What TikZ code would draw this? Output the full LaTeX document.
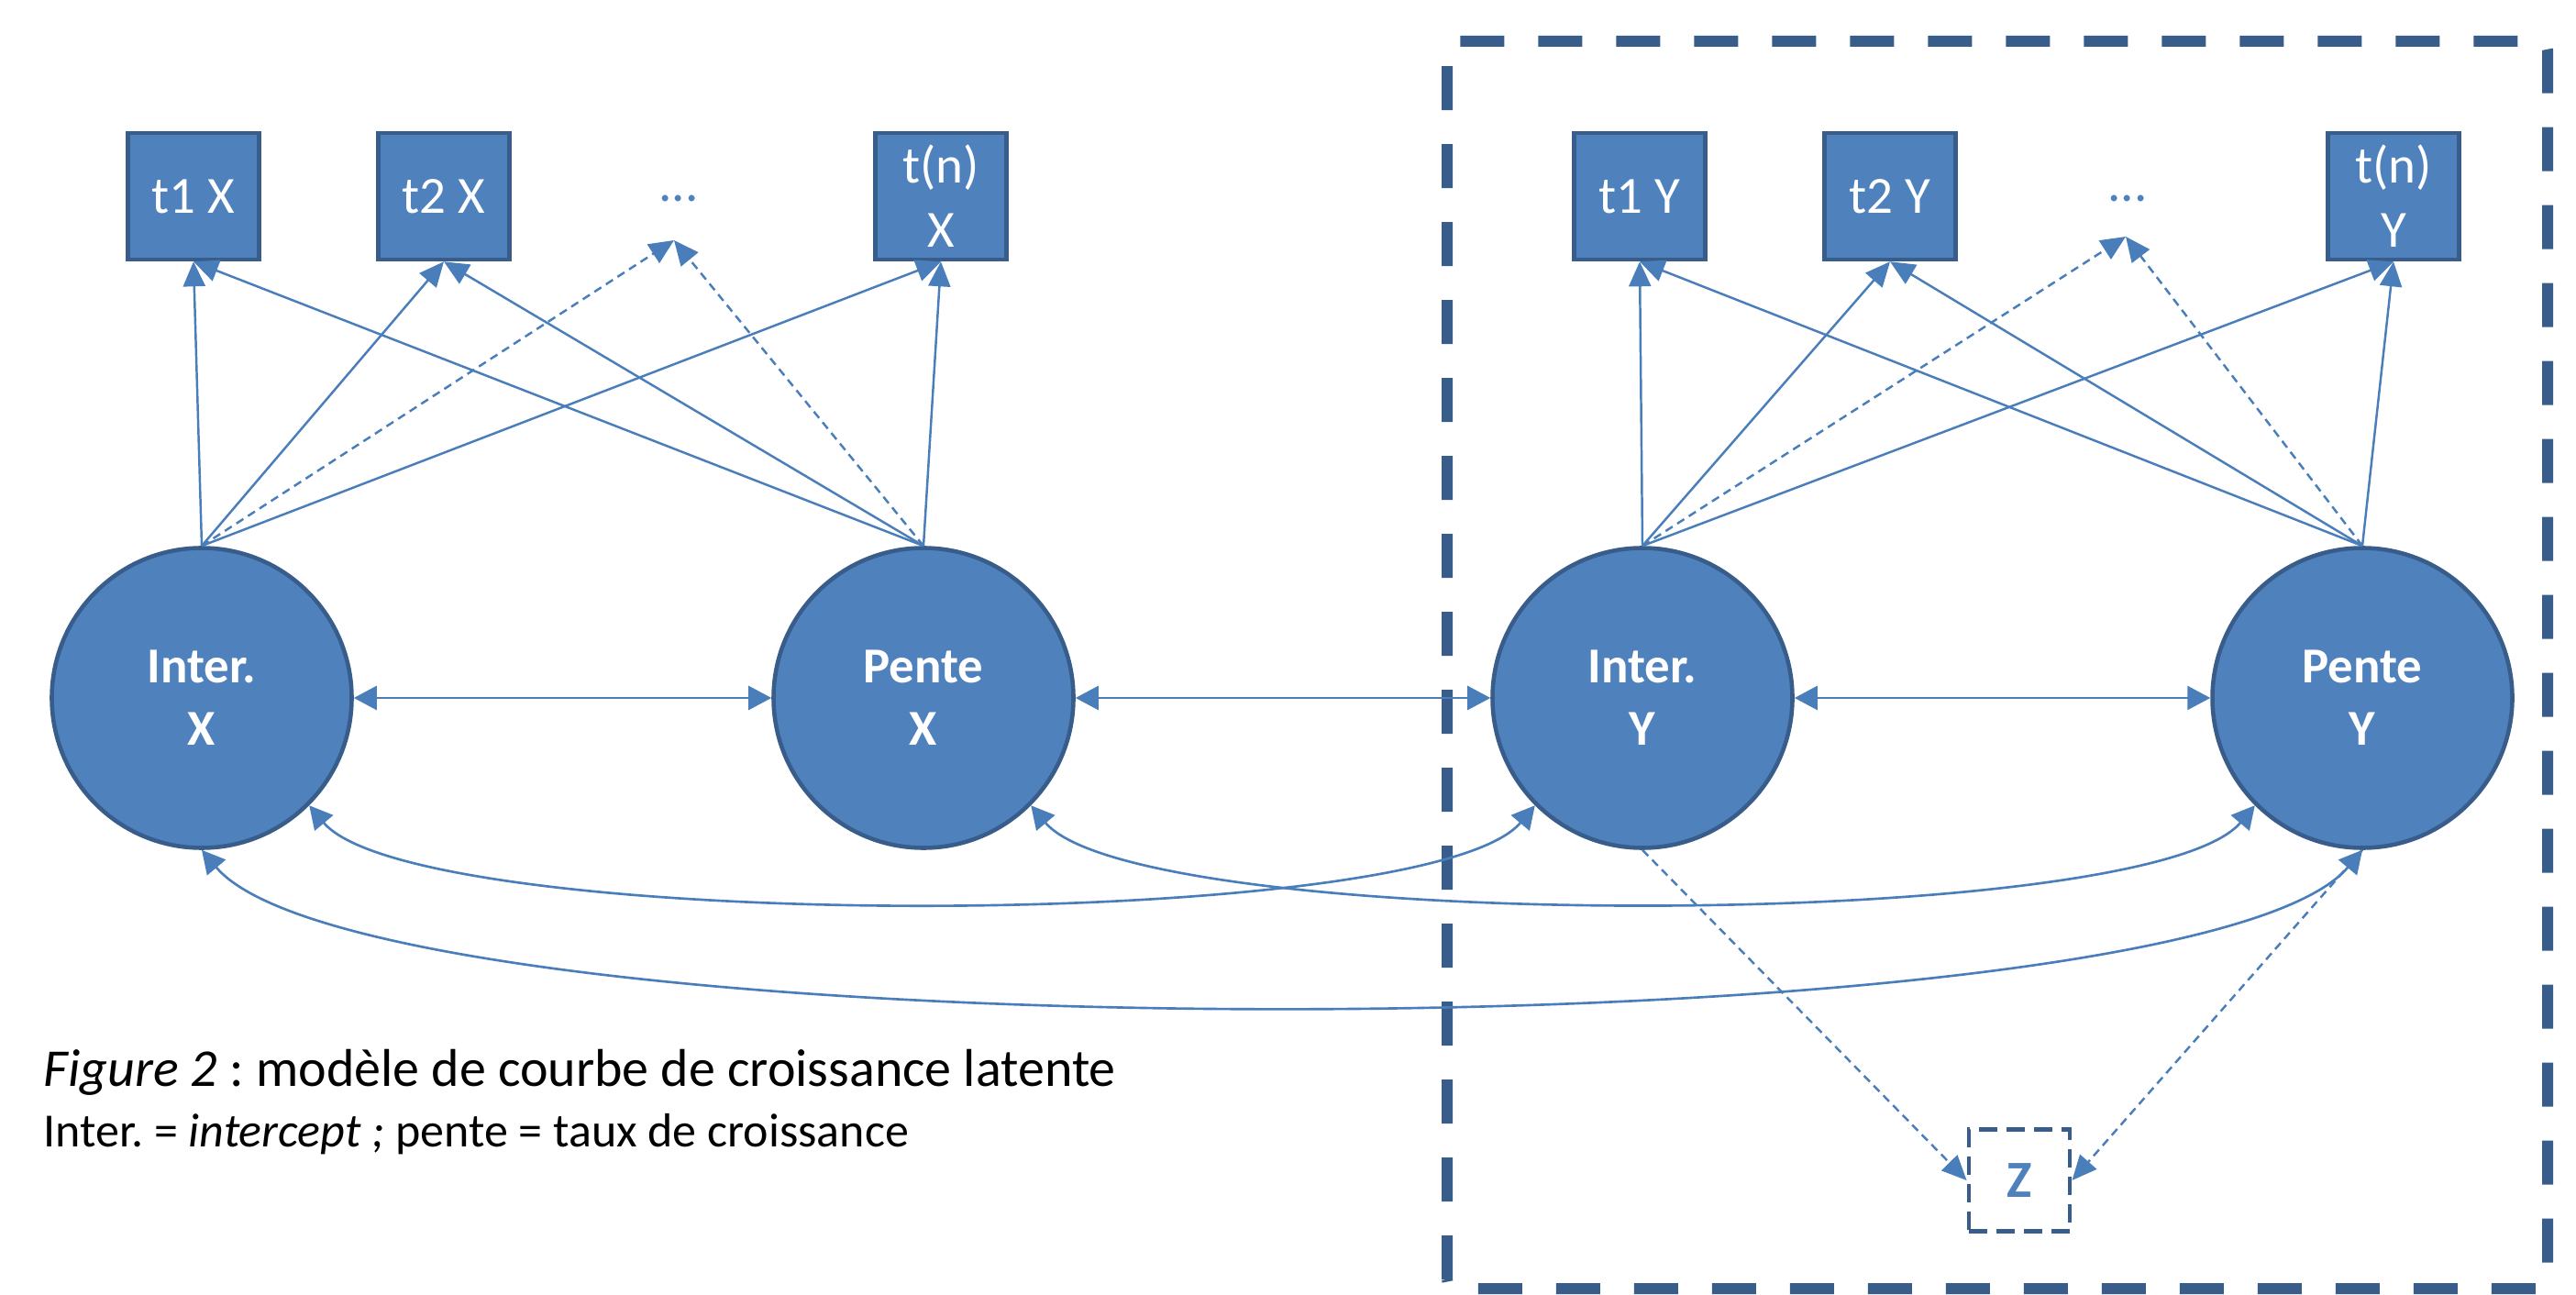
\documentclass[tikz,border=0pt]{standalone}
\usepackage{fontspec}
\setmainfont{Carlito}
\usepackage{xcolor}
\definecolor{myblue}{HTML}{4F81BD}
\definecolor{mydarkblue}{HTML}{385D8A}
\definecolor{myline}{HTML}{4A7EBB}
\usetikzlibrary{arrows.meta}
\frenchspacing

\begin{document}
\begin{tikzpicture}[
    latent/.style={circle, draw=mydarkblue, line width=1.3pt, fill=myblue, text=white,
      font=\fontsize{15.6}{19.4}\selectfont\bfseries, align=center, minimum size=3.27cm, inner sep=0pt},
    obs/.style={rectangle, draw=mydarkblue, line width=1.3pt, fill=myblue, text=white,
      font=\fontsize{16.2}{19.9}\selectfont, align=center, minimum width=1.43cm, minimum height=1.38cm, inner sep=0pt},
    etc/.style={text=myblue, font=\fontsize{16.2}{19.9}\selectfont, inner sep=0pt},
    load/.style={myline, line width=0.7pt, -{Triangle[length=0.27cm,width=0.24cm]}},
    thin dash/.style={dash pattern=on 0.09cm off 0.06cm},
    covline/.style={myline, line width=0.75pt, {Triangle[length=0.25cm,width=0.26cm]}-{Triangle[length=0.25cm,width=0.26cm]}},
    zbox/.style={rectangle, draw=mydarkblue, line width=1.4pt, dash pattern=on 0.2cm off 0.1cm, text=myblue,
      font=\fontsize{16.2}{19.9}\selectfont\bfseries, minimum width=1.10cm, minimum height=1.11cm, inner sep=0pt},
    frame/.style={draw=mydarkblue, line width=0.12cm, dash pattern=on 0.48cm off 0.37cm, rounded corners=0.1cm}
  ]
  \useasboundingbox (0cm,0cm) rectangle (28.09cm,14.11cm);
  % Y block
  \draw[frame] (15.78cm,0.06cm) rectangle (27.78cm,13.66cm);
  % latent factors
  \node[latent] (iX) at (2.20cm,6.50cm) {Inter.\\X};
  \node[latent] (pX) at (10.07cm,6.50cm) {Pente\\X};
  \node[latent] (iY) at (17.91cm,6.50cm) {Inter.\\Y};
  \node[latent] (pY) at (25.76cm,6.50cm) {Pente\\Y};
  % repeated measures
  \node[obs] (t1X) at (2.11cm,11.97cm) {t1 X};
  \node[obs] (t2X) at (4.84cm,11.97cm) {t2 X};
  \node[obs] (tnX) at (10.26cm,11.97cm) {t(n)\\X};
  \node[obs] (t1Y) at (17.88cm,11.97cm) {t1 Y};
  \node[obs] (t2Y) at (20.61cm,11.97cm) {t2 Y};
  \node[obs] (tnY) at (26.10cm,11.97cm) {t(n)\\Y};
  \node[etc] (dotsX) at (7.40cm,11.94cm) {...};
  \node[etc] (dotsY) at (23.20cm,11.94cm) {...};
  \coordinate (endX) at (7.35cm,11.49cm);
  \coordinate (endY) at (23.18cm,11.53cm);
  % covariate
  \node[zbox] (z) at (22.02cm,1.24cm) {Z};
  % loadings
  \foreach \f/\s in {iX/X,pX/X,iY/Y,pY/Y}{
    \foreach \t in {t1,t2,tn}
      \draw[load] (\f.north) -- (\t\s.south);
    \draw[load, thin dash] (\f.north) -- (end\s);
  }
  % covariances
  \draw[covline] (iX.east) -- (pX.west);
  \draw[covline] (pX.east) -- (iY.west);
  \draw[covline] (iY.east) -- (pY.west);
  \draw[covline] (iX.-45) to[out=-50, in=-130, looseness=0.35] (iY.-135);
  \draw[covline] (pX.-45) to[out=-50, in=-130, looseness=0.35] (pY.-135);
  \draw[covline] (iX.south) to[out=-50, in=-130, looseness=0.32] (pY.south);
  \draw[load, thin dash] (iY.south) -- (z.west);
  \draw[load, thin dash] (pY.south) -- (z.east);
  % caption
  \node[anchor=base west, font=\fontsize{16.5}{20}\selectfont, inner sep=0pt] (cap1) at (0.47cm,2.27cm)
    {\textit{Figure 2} : modèle de courbe de croissance latente};
  \node[anchor=base west, font=\fontsize{14.8}{18}\selectfont, inner sep=0pt] (cap2) at (0.47cm,1.61cm)
    {Inter. = \textit{intercept ;} pente = taux de croissance};
\end{tikzpicture}
\end{document}
